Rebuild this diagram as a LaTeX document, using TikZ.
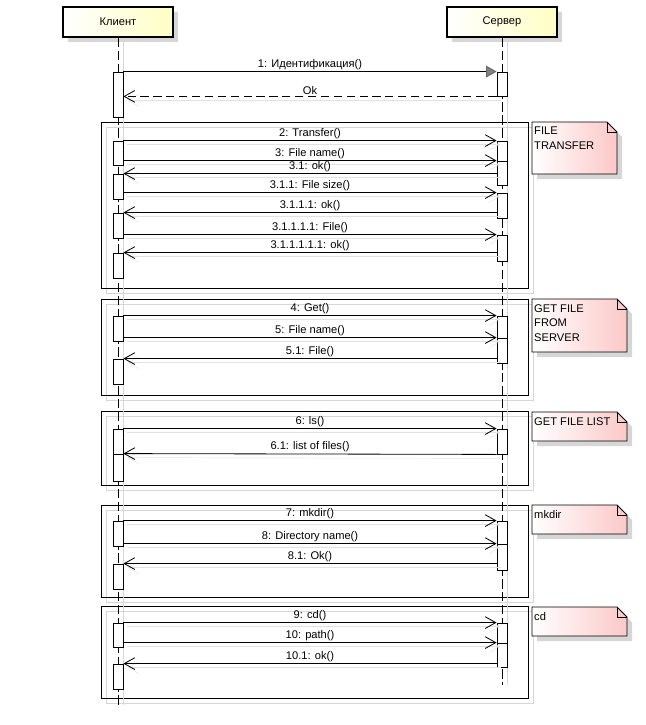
\documentclass[tikz,border=0pt]{standalone}
\usepackage{fontspec}
\setmainfont{Liberation Sans}
\usetikzlibrary{arrows.meta, positioning, fit, shadows}
\definecolor{headfill}{RGB}{255,255,196}
\definecolor{notefill}{RGB}{252,200,200}
\definecolor{shade}{RGB}{214,214,214}
\definecolor{tipgray}{RGB}{128,128,128}
\tikzset{
  head/.style={rectangle, draw=black, line width=1.6pt, left color=white, right color=headfill,
    minimum width=3.3cm, minimum height=0.9cm, font=\fontsize{9.5}{11}\selectfont,
    general shadow={fill=shade, shadow xshift=0.15cm, shadow yshift=-0.15cm}},
  act/.style={rectangle, draw=black, fill=white, line width=0.7pt, inner sep=0pt},
  frame/.style={draw=black, line width=0.8pt},
  frameshadow/.style={draw=shade, line width=0.8pt},
  life/.style={draw=black, line width=0.7pt, dash pattern=on 8pt off 3pt},
  lifeshadow/.style={draw=shade, line width=0.7pt},
  msgshadow/.style={preaction={draw=shade!70, transform canvas={shift={(0.12cm,-0.12cm)}}}},
  call/.style={-{Straight Barb[length=9pt, width=10pt]}, line width=0.7pt, msgshadow},
  reply/.style={call, dash pattern=on 7pt off 4pt},
  first/.style={-{Triangle[length=9pt, width=10pt, fill=tipgray, color=tipgray!80!black]}, line width=0.7pt},
  lbl/.style={midway, above, inner sep=1.2pt, font=\fontsize{9.5}{11}\selectfont},
  note/.style={draw=black, line width=0.8pt, left color=white, right color=notefill,
    general shadow={fill=shade, shadow xshift=0.15cm, shadow yshift=-0.15cm}},
  notetext/.style={anchor=north west, align=left, inner sep=0pt, font=\fontsize{9.5}{12.5}\selectfont}
}

\begin{document}
\begin{tikzpicture}[x=0.03cm, y=-0.03cm]
  \useasboundingbox (0,0) rectangle (646,725);

  % Frames
  \foreach \yt/\yb in {122/288, 299/395, 411/485, 505/597, 606/698} {
    \draw[frameshadow] (106,\yt+5) rectangle (533,\yb+5);
    \draw[frame] (101,\yt) rectangle (528,\yb);
  }

  % Heads and lifelines
  \node[head] (klient) at (118,22) {Клиент};
  \node[head] (server) at (502,22) {Сервер};
  \coordinate (kend) at (118,705);
  \coordinate (send) at (502,685);
  \draw[lifeshadow] ([xshift=0.15cm]klient.south) -- ([xshift=0.15cm]kend);
  \draw[lifeshadow] ([xshift=0.15cm]server.south) -- ([xshift=0.15cm]send);
  \draw[life] (klient.south) -- (kend);
  \draw[life] (server.south) -- (send);

  % Activation bars
  \foreach \n/\x/\ya/\yb in {c0/118/72/117, s0/502/72/96,
      c1/118/141/165, s1/502/141/161, s2/502/161/185, c2/118/174/199,
      s3/502/193/218, c3/118/213/238, s4/502/235/261, c4/118/253/278,
      c5/118/316/341, s5/502/316/338, s6/502/338/363, c6/118/359/384,
      c7/118/429/454, c8/118/454/481, s7/502/429/454,
      c9/118/521/546, s8/502/521/544, s9/502/544/570, c10/118/564/589,
      c11/118/623/647, s10/502/623/643, s11/502/643/667, c12/118/664/689} {
    \node[act, fit={(\x-5,\ya)(\x+5,\yb)}] (\n) {};
  }

  % Messages
  \draw[first] (c0.north east) -- (s0.north west) node[lbl] {1: Идентификация()};
  \draw[reply] (s0.south west) -- (c0.east |- s0.south) node[lbl] {Ok};

  \draw[call] (c1.north east) -- (s1.north west) node[lbl] {2: Transfer()};
  \draw[call] (c1.east |- s2.north) -- (s2.north west) node[lbl] {3: File name()};
  \draw[call] (s2.west |- c2.north) -- (c2.north east) node[lbl] {3.1: ok()};
  \draw[call] (c2.east |- s3.north) -- (s3.north west) node[lbl] {3.1.1: File size()};
  \draw[call] (s3.west |- c3.north) -- (c3.north east) node[lbl] {3.1.1.1: ok()};
  \draw[call] (c3.east |- s4.north) -- (s4.north west) node[lbl] {3.1.1.1.1: File()};
  \draw[call] (s4.west |- c4.north) -- (c4.north east) node[lbl] {3.1.1.1.1.1: ok()};

  \draw[call] (c5.north east) -- (s5.north west) node[lbl] {4: Get()};
  \draw[call] (c5.east |- s6.north) -- (s6.north west) node[lbl] {5: File name()};
  \draw[call] (s6.west |- c6.north) -- (c6.north east) node[lbl] {5.1: File()};

  \draw[call] (c7.north east) -- (s7.north west) node[lbl] {6: ls()};
  \draw[call] (s7.south west) -- (c8.north east) node[lbl] {6.1: list of files()};

  \draw[call] (c9.north east) -- (s8.north west) node[lbl] {7: mkdir()};
  \draw[call] (c9.east |- s9.north) -- (s9.north west) node[lbl] {8: Directory name()};
  \draw[call] (s9.west |- c10.north) -- (c10.north east) node[lbl] {8.1: Ok()};

  \draw[call] (c11.north east) -- (s10.north west) node[lbl] {9: cd()};
  \draw[call] (c11.east |- s11.north) -- (s11.north west) node[lbl] {10: path()};
  \draw[call] (s11.west |- c12.north) -- (c12.north east) node[lbl] {10.1: ok()};

  % Notes
  \foreach \yt/\yb/\xr/\txt in {122/174/617/{FILE\\TRANSFER}, 299/352/627/{GET FILE\\FROM\\SERVER},
      412/441/627/{GET FILE LIST}, 505/534/627/{mkdir}, 607/636/627/{cd}} {
    \path[note] (532,\yt) -- (\xr-10,\yt) -- (\xr,\yt+10) -- (\xr,\yb) -- (532,\yb) -- cycle;
    \draw[line width=0.7pt] (\xr-10,\yt) -- (\xr-10,\yt+10) -- (\xr,\yt+10);
    \node[notetext] at (534,\yt+5) {\txt};
  }
\end{tikzpicture}
\end{document}
